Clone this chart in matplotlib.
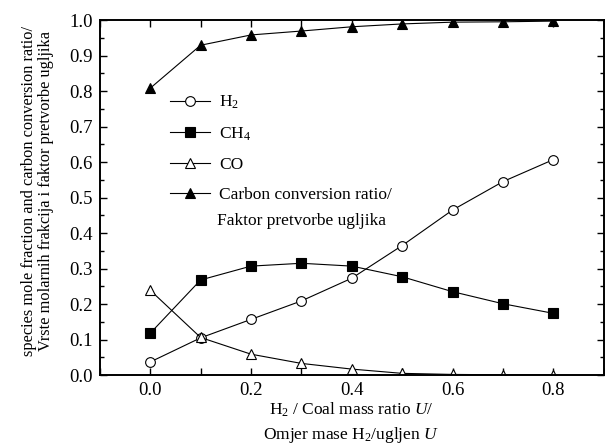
import numpy as np
import matplotlib.pyplot as plt
from matplotlib.ticker import MultipleLocator

plt.rcParams['font.family'] = ['Liberation Serif', 'DejaVu Serif']
plt.rcParams['mathtext.fontset'] = 'custom'
plt.rcParams['mathtext.rm'] = 'Liberation Serif'
plt.rcParams['mathtext.it'] = 'Liberation Serif:italic'

# H2 / coal mass ratio
ratio = [0.0, 0.1, 0.2, 0.3, 0.4, 0.5, 0.6, 0.7, 0.8]
h2 = [0.037, 0.105, 0.157, 0.209, 0.273, 0.365, 0.465, 0.545, 0.607]
ch4 = [0.118, 0.268, 0.307, 0.315, 0.307, 0.277, 0.235, 0.201, 0.174]
co = [0.239, 0.106, 0.059, 0.033, 0.017, 0.005, 0.002, 0.001, 0.001]
carbon = [0.808, 0.929, 0.958, 0.969, 0.981, 0.989, 0.994, 0.995, 0.997]

fig = plt.figure(figsize=(6.05, 4.45), dpi=100)
ax = fig.add_axes([0.165, 0.157, 0.833, 0.798])

kw = dict(color='black', lw=0.8, markersize=7, markeredgewidth=0.8)
ax.plot(ratio, h2, marker='o', mfc='white', mec='black', label='H$_2$', **kw)
ax.plot(ratio, ch4, marker='s', mfc='black', mec='black', label='CH$_4$', **kw)
ax.plot(ratio, co, marker='^', mfc='white', mec='black', label='CO', **kw)
ax.plot(ratio, carbon, marker='^', mfc='black', mec='black',
        label='Carbon conversion ratio/', **kw)

ax.set_xlim(-0.1, 0.9)
ax.set_ylim(0.0, 1.0)
ax.xaxis.set_major_locator(MultipleLocator(0.2))
ax.xaxis.set_minor_locator(MultipleLocator(0.1))
ax.yaxis.set_major_locator(MultipleLocator(0.1))
ax.yaxis.set_minor_locator(MultipleLocator(0.05))
ax.tick_params(which='both', direction='in', top=True, right=True, labelsize=13.5)
ax.tick_params(which='major', length=5, width=1, pad=5)
ax.tick_params(which='minor', length=3, width=1)
ax.tick_params(axis='x', which='minor', length=5)
for s in ax.spines.values():
    s.set_linewidth(1.4)

# axis titles (two lines each)
fig.text(0.58, 0.068, 'H$_2$ / Coal mass ratio $U$/', ha='center',
         va='baseline', fontsize=12.5)
fig.text(0.58, 0.014, 'Omjer mase H$_2$/ugljen $U$', ha='center',
         va='baseline', fontsize=12.5)
fig.text(0.062, 0.57, 'species mole fraction and carbon conversion ratio/\n'
         'Vrste molarnih frakcija i faktor pretvorbe ugljika',
         rotation=90, ha='center', va='center', fontsize=11.8, linespacing=1.1)

leg = ax.legend(loc='upper left', bbox_to_anchor=(0.126, 0.811), frameon=False,
                fontsize=12.5, handlelength=2.3, handletextpad=0.5,
                labelspacing=0.8, borderaxespad=0)
# second line of the carbon conversion legend entry
ax.text(0.232, 0.434, 'Faktor pretvorbe ugljika', transform=ax.transAxes,
        fontsize=12.5, va='center', ha='left')

fig.savefig('out.png', dpi=100)
